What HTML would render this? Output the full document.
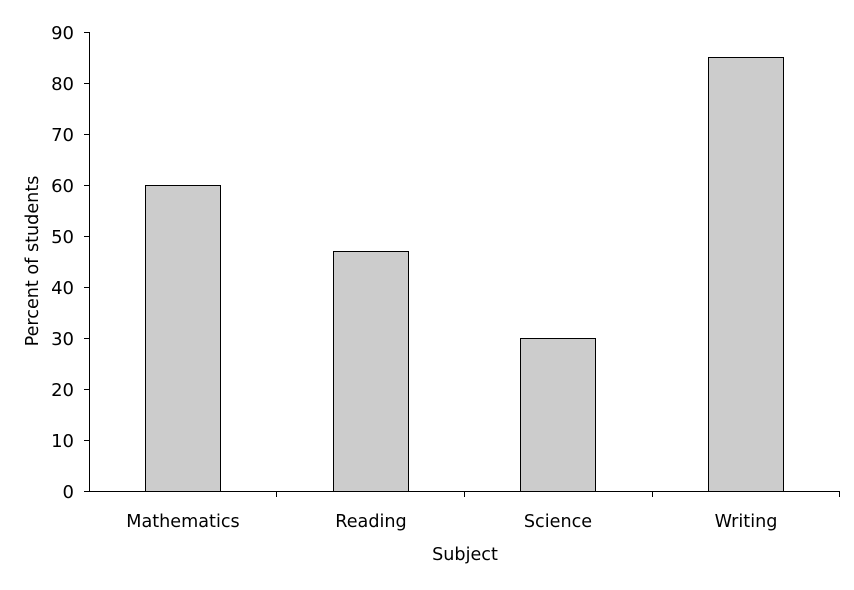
<!DOCTYPE html>
<html><head><style>body{margin:0;background:#fff}</style></head><body>
<svg width="854" height="585" xmlns="http://www.w3.org/2000/svg" font-family="DejaVu Sans, sans-serif" font-size="17.6" fill="#000">
<rect width="854" height="585" fill="#fff"/>
<g fill="#cccccc" stroke="#000" stroke-width="1">
<rect x="145.5" y="185.5" width="75" height="306"/>
<rect x="333.5" y="251.5" width="75" height="240"/>
<rect x="520.5" y="338.5" width="75" height="153"/>
<rect x="708.5" y="57.5" width="75" height="434"/>
</g>
<g stroke="#000" stroke-width="1">
<line x1="89.5" y1="32" x2="89.5" y2="492"/>
<line x1="89" y1="491.5" x2="840" y2="491.5"/>
<line x1="84" y1="32.5" x2="89" y2="32.5"/>
<line x1="84" y1="83.5" x2="89" y2="83.5"/>
<line x1="84" y1="134.5" x2="89" y2="134.5"/>
<line x1="84" y1="185.5" x2="89" y2="185.5"/>
<line x1="84" y1="236.5" x2="89" y2="236.5"/>
<line x1="84" y1="287.5" x2="89" y2="287.5"/>
<line x1="84" y1="338.5" x2="89" y2="338.5"/>
<line x1="84" y1="389.5" x2="89" y2="389.5"/>
<line x1="84" y1="440.5" x2="89" y2="440.5"/>
<line x1="84" y1="491.5" x2="89" y2="491.5"/>
<line x1="276.5" y1="491" x2="276.5" y2="497"/>
<line x1="464.5" y1="491" x2="464.5" y2="497"/>
<line x1="652.5" y1="491" x2="652.5" y2="497"/>
<line x1="839.5" y1="491" x2="839.5" y2="497"/>
</g>
<g text-anchor="end" font-size="18">
<text x="74" y="39">90</text><text x="74" y="90">80</text><text x="74" y="141">70</text>
<text x="74" y="192">60</text><text x="74" y="243">50</text><text x="74" y="294">40</text>
<text x="74" y="345">30</text><text x="74" y="396">20</text><text x="74" y="447">10</text>
<text x="74" y="498">0</text>
</g>
<g text-anchor="middle">
<text x="183" y="527">Mathematics</text>
<text x="371" y="527">Reading</text>
<text x="558" y="527">Science</text>
<text x="746" y="527">Writing</text>
<text x="465" y="560">Subject</text>
<text transform="translate(38,261) rotate(-90)">Percent of students</text>
</g>
</svg>
</body></html>
